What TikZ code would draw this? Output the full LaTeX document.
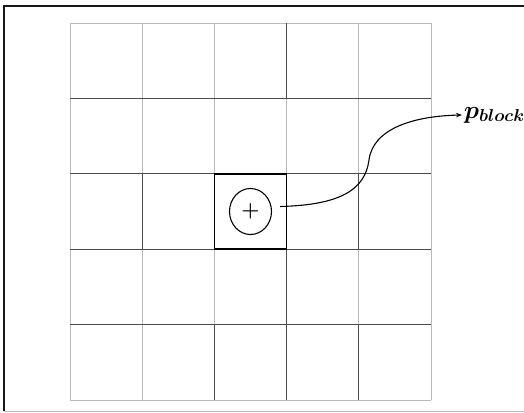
\documentclass[tikz,border=0pt]{standalone}
\usepackage{amsmath, bm}
\usetikzlibrary{arrows.meta, positioning, calc, shapes.geometric}

\begin{document}
\begin{tikzpicture}[x=1pt, y=-1pt,
    frame/.style={draw=black!90, line width=1.4pt},
    gridline/.style={draw=gray!55, line width=0.8pt},
    darkline/.style={draw=black!70, line width=0.8pt},
    block/.style={rectangle, draw=black, line width=1.8pt, minimum width=72pt, minimum height=75pt, inner sep=0pt},
    centre/.style={ellipse, draw=black, line width=1.1pt, minimum width=42pt, minimum height=46pt, inner sep=0pt, font=\huge\boldmath},
    arrow/.style={-{Stealth[length=6pt, width=4.5pt]}, line width=1.1pt},
    label/.style={font=\fontsize{25}{30}\selectfont, anchor=west, inner sep=2pt}
]
    % Spacing constants
    \def\cw{72.2}
    \def\ch{75.4}

    \useasboundingbox (0,0) rectangle (524,412);
    \draw[frame] (4,411) -- (4,6) -- (524,6);
    \draw[gridline, line width=1pt] (4,411) -- (524,411);

    % Grid
    \foreach \i in {0,...,5} {
        \draw[gridline] (70,23+\i*\ch) -- (431,23+\i*\ch);
        \draw[gridline] (70+\i*\cw,23) -- (70+\i*\cw,400);
    }
    \foreach \i in {1,...,4}
        \draw[darkline] (70,23+\i*\ch) -- (431,23+\i*\ch);
    \foreach \c/\r in {1/2, 2/4, 3/0, 3/3, 3/4, 4/2, 4/4}
        \draw[darkline] (70+\c*\cw,23+\r*\ch) -- ++(0,\ch);

    % Centre block and its point
    \node[block] (blk) at (70+2.5*\cw, 23+2.5*\ch) {};
    \node[centre] (pt) at (blk.center) {$+$};

    % Label
    \node[label] (pb) at (462,115) {$\bm{p}_{\bm{block}}$};

    \draw[arrow] ([xshift=8pt, yshift=5pt]pt.east) .. controls (340,205) and (365,190) .. (369,160)
        .. controls (373,128) and (415,116) .. (pb.west);

\end{tikzpicture}
\end{document}
